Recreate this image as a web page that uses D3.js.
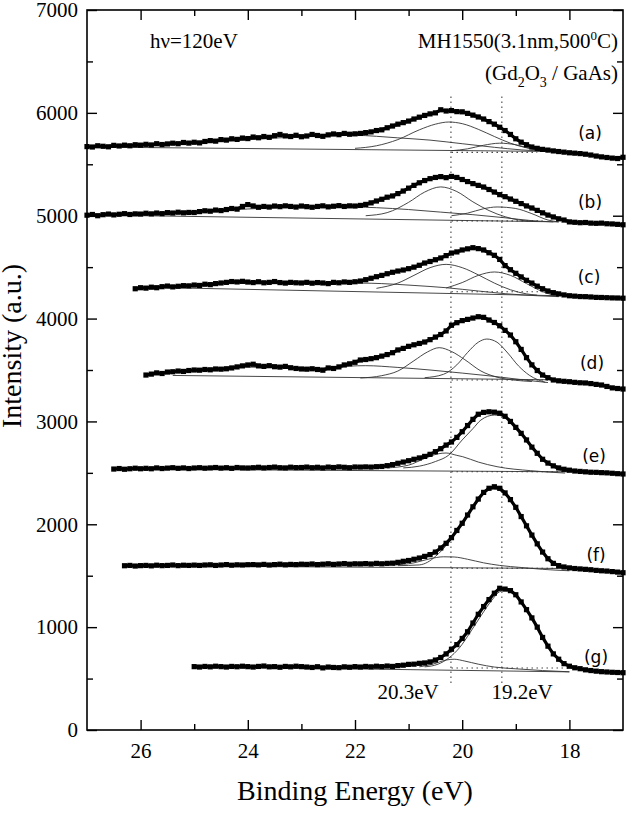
<!DOCTYPE html>
<html><head><meta charset="utf-8">
<script src="https://cdn.jsdelivr.net/npm/d3@7"></script>
<style>body{margin:0;background:#fff} svg{display:block}</style>
</head><body>
<svg id="chart" width="629" height="817"></svg>
<script>
// ---------------- data ----------------
const energyStep = 0.1;
const spectrumLabels = ["(a)","(b)","(c)","(d)","(e)","(f)","(g)"];
const spectrumStart = [27.0, 27.0, 26.1, 25.9, 26.5, 26.3, 25.0];

const specA = [5672,5668,5680,5675,5670,5684,5678,5686,5680,5690,
  5686,5694,5688,5700,5692,5698,5705,5700,5712,5706,
  5714,5708,5722,5730,5725,5740,5735,5748,5742,5755,
  5750,5765,5758,5770,5762,5778,5790,5776,5770,5782,
  5768,5775,5790,5780,5772,5786,5795,5788,5800,5792,
  5796,5800,5808,5815,5828,5835,5855,5872,5890,5905,
  5920,5940,5958,5975,5990,6000,6030,6018,6022,6012,
  6010,5995,5978,5960,5940,5915,5890,5860,5828,5790,
  5748,5715,5690,5668,5655,5645,5638,5630,5624,5618,
  5612,5608,5604,5598,5590,5580,5572,5566,5560,5556,
  5568];
const specB = [5005,5012,5000,5010,5016,5008,5014,5020,5012,5018,
  5016,5024,5018,5026,5020,5030,5026,5034,5028,5032,
  5031,5040,5048,5044,5055,5050,5060,5070,5064,5090,
  5108,5095,5082,5090,5084,5094,5088,5096,5090,5084,
  5094,5088,5082,5090,5096,5086,5092,5098,5090,5096,
  5094,5100,5110,5125,5143,5160,5180,5192,5215,5240,
  5268,5295,5320,5342,5360,5372,5380,5370,5382,5372,
  5352,5332,5312,5295,5279,5255,5230,5205,5185,5162,
  5140,5118,5095,5075,5052,5028,5006,4988,4970,4958,
  4940,4936,4932,4934,4928,4926,4928,4922,4920,4916,
  4912];
const specC = [4290,4300,4296,4305,4300,4310,4316,4308,4314,4320,
  4318,4326,4322,4334,4330,4340,4346,4352,4360,4356,
  4362,4355,4350,4358,4348,4352,4360,4350,4345,4352,
  4348,4346,4352,4344,4350,4346,4340,4352,4348,4356,
  4352,4358,4365,4378,4392,4407,4420,4436,4450,4462,
  4472,4485,4500,4518,4540,4555,4572,4589,4612,4637,
  4648,4667,4678,4689,4680,4667,4640,4615,4575,4515,
  4475,4440,4405,4372,4345,4315,4290,4268,4252,4240,
  4230,4222,4218,4214,4213,4210,4206,4205,4203,4201,
  4200,4198];
const specD = [3451,3460,3472,3466,3480,3483,3490,3486,3495,3500,
  3498,3505,3502,3510,3508,3512,3520,3530,3540,3549,
  3556,3540,3535,3542,3532,3528,3535,3522,3515,3510,
  3508,3512,3505,3498,3520,3515,3530,3549,3560,3575,
  3597,3602,3610,3620,3635,3650,3668,3695,3710,3730,
  3745,3758,3772,3795,3820,3845,3880,3935,3960,3980,
  3992,4005,4018,4012,3986,3962,3930,3885,3840,3775,
  3700,3620,3550,3495,3451,3425,3403,3395,3390,3386,
  3380,3376,3374,3368,3360,3354,3340,3326,3320,3315];
const specE = [2537,2542,2535,2540,2545,2540,
  2544,2540,2548,2542,2546,2550,2544,2548,2542,2547,
  2550,2545,2548,2552,2546,2550,2544,2552,2548,2547,
  2550,2554,2548,2552,2556,2550,2548,2555,2551,2552,
  2556,2550,2554,2548,2556,2552,2558,2554,2550,2557,
  2556,2558,2556,2560,2562,2570,2580,2593,2605,2618,
  2632,2645,2660,2680,2706,2735,2770,2800,2845,2900,
  2960,3020,3070,3088,3094,3090,3080,3050,3000,2942,
  2884,2820,2750,2690,2632,2595,2568,2548,2535,2526,
  2518,2514,2510,2506,2505,2502,2500,2496,2492,2489];
const specF = [1597,1600,1594,1598,
  1600,1596,1602,1598,1600,1604,1598,1602,1600,1603,
  1600,1604,1606,1600,1604,1608,1602,1606,1604,1607,
  1608,1605,1610,1604,1608,1612,1606,1610,1608,1612,
  1610,1614,1608,1612,1616,1610,1614,1618,1612,1616,
  1615,1618,1614,1620,1616,1620,1622,1630,1640,1648,
  1660,1672,1688,1705,1730,1770,1815,1870,1940,2010,
  2090,2170,2245,2310,2350,2365,2350,2305,2240,2165,
  2075,1985,1895,1810,1730,1665,1620,1598,1585,1576,
  1570,1566,1562,1558,1552,1548,1545,1540,1535,1529];
const specG = [616,
  612,618,614,620,616,612,618,615,620,616,
  612,618,622,614,616,610,618,614,620,616,
  612,608,615,604,612,608,606,614,610,616,
  612,618,614,620,616,622,618,626,630,638,
  640,648,652,662,680,705,740,785,830,890,
  955,1040,1125,1200,1268,1330,1378,1370,1355,1315,
  1245,1170,1090,1000,900,815,740,688,645,620,
  605,596,585,578,572,567,564,561,559,557];
const spectra = [specA, specB, specC, specD, specE, specF, specG];

// fitted components: [energy, intensity] key points
const fitsA = [
  [[27,5668],[18.4,5625]],
  [[27,5668],[25.5,5695],[24.5,5722],[23.5,5755],[22.6,5775],[22.0,5782],[21.6,5772],[21.2,5757],[20.6,5735],[20.0,5700],[19.4,5665],[18.9,5640],[18.5,5628]],
  [[22.0,5655],[21.6,5680],[21.2,5740],[20.8,5835],[20.5,5890],[20.25,5911],[20.0,5895],[19.7,5840],[19.4,5770],[19.1,5705],[18.8,5660],[18.5,5636]],
  [[20.2,5632],[19.9,5650],[19.6,5685],[19.3,5705],[19.0,5690],[18.7,5650],[18.4,5622]]
];
const fitsB = [
  [[27,5008],[18.2,4940]],
  [[27,5008],[25.5,5025],[24.5,5050],[23.5,5078],[22.6,5085],[22.0,5084],[21.6,5078],[21.0,5060],[20.4,5035],[19.8,5010],[19.2,4980],[18.7,4952],[18.3,4940]],
  [[21.8,5000],[21.4,5030],[21.0,5130],[20.7,5230],[20.4,5280],[20.1,5235],[19.8,5135],[19.5,5050],[19.2,4990],[18.9,4955],[18.6,4944]],
  [[20.2,5000],[19.9,5025],[19.6,5068],[19.35,5085],[19.0,5070],[18.7,5020],[18.4,4958],[18.2,4940]]
];
const fitsC = [
  [[25.5,4300],[18.2,4222]],
  [[26.1,4290],[25.2,4312],[24.2,4345],[23.2,4345],[22.4,4345],[21.9,4345],[21.5,4340],[20.9,4322],[20.3,4300],[19.7,4268],[19.2,4242],[18.6,4222],[18.2,4213]],
  [[21.6,4294],[21.2,4345],[20.9,4420],[20.6,4495],[20.3,4527],[20.0,4495],[19.7,4425],[19.4,4345],[19.1,4280],[18.8,4240],[18.6,4228]],
  [[20.3,4297],[20.0,4350],[19.7,4420],[19.4,4453],[19.1,4420],[18.8,4340],[18.5,4262],[18.2,4215]]
];
const fitsD = [
  [[25.4,3447],[18.4,3405]],
  [[25.9,3450],[25.0,3492],[24.2,3530],[23.4,3522],[22.6,3518],[22.1,3538],[21.8,3542],[21.2,3525],[20.6,3500],[20.0,3470],[19.4,3438],[18.8,3400],[18.4,3378]],
  [[21.9,3422],[21.5,3445],[21.2,3490],[20.9,3590],[20.65,3675],[20.43,3717],[20.2,3680],[19.95,3600],[19.65,3490],[19.35,3430],[19.0,3400],[18.7,3388]],
  [[20.7,3425],[20.35,3458],[20.1,3550],[19.9,3670],[19.7,3770],[19.54,3801],[19.35,3770],[19.15,3665],[18.95,3540],[18.75,3450],[18.45,3380]]
];
const fitsE = [
  [[26.4,2537],[18.0,2510]],
  [[21.1,2548],[20.8,2565],[20.5,2610],[20.25,2673],[20.0,2820],[19.8,2930],[19.65,3014],[19.4,3062],[19.2,3045],[19.0,2945],[18.8,2830],[18.6,2700],[18.4,2595],[18.2,2530],[18.0,2512]],
  [[21.4,2548],[21.0,2575],[20.7,2640],[20.45,2685],[20.3,2693],[20.1,2670],[19.99,2657],[19.7,2605],[19.35,2560],[18.72,2521],[18.08,2498]]
];
const fitsF = [
  [[26.2,1597],[18.0,1570]],
  [[21.2,1598],[20.8,1605],[20.65,1630],[20.5,1687],[20.25,1825],[20.0,2018],[19.8,2170],[19.6,2300],[19.42,2343],[19.2,2290],[19.0,2150],[18.8,1985],[18.6,1810],[18.4,1680],[18.2,1610],[18.0,1578]],
  [[21.3,1602],[20.9,1625],[20.6,1665],[20.35,1684],[20.15,1682],[19.9,1660],[19.6,1625],[19.3,1600],[18.9,1580],[18.5,1562],[18.0,1548]]
];
const fitsG = [
  [[25.0,616],[18.0,565]],
  [[20.7,614],[20.45,640],[20.25,700],[20.05,800],[19.85,950],[19.65,1110],[19.45,1260],[19.3,1345],[19.15,1362],[19.0,1320],[18.8,1175],[18.6,1000],[18.4,825],[18.2,695],[18.0,625],[17.8,596]],
  [[20.8,614],[20.55,640],[20.3,680],[20.15,688],[19.95,670],[19.7,640],[19.4,612],[19.0,595],[18.5,578],[18.0,566]]
];
const fits = [fitsA, fitsB, fitsC, fitsD, fitsE, fitsF, fitsG];

// dotted baselines: [from energy, to energy, intensity]
const dottedBaselines = [
  [20.2, 18.6, 5616],
  [20.2, 18.5, 4950],
  [20.2, 18.2, 4261],
  [20.2, 18.2, 3403],
  [20.2, 18.0, 2511],
  [20.2, 18.0, 1572],
  [20.2, 17.95, 603]
];
const peakEnergies = [20.21, 19.26];
const peakLabels = ["20.3eV", "19.2eV"];
const peakLineRange = [440, 6160];

const xTicks = [26, 24, 22, 20, 18];
const xMinorTicks = [25, 23, 21, 19];
const yTicks = [0, 1000, 2000, 3000, 4000, 5000, 6000, 7000];
const yMinorTicks = [500, 1500, 2500, 3500, 4500, 5500, 6500];

// ---------------- drawing ----------------
const W = 629, H = 817;
const svg = d3.select("#chart");
svg.append("rect").attr("width", W).attr("height", H).attr("fill", "#fff");

const plot = {left: 87, right: 623, top: 10, bottom: 730};
const x = d3.scaleLinear().domain([27, 17]).range([plot.left, plot.right]);
const y = d3.scaleLinear().domain([0, 7000]).range([plot.bottom, plot.top]);

const serif = "'Liberation Serif', 'Times New Roman', serif";
const sans = "'DejaVu Sans', Verdana, sans-serif";

function styleAxis(g, size) {
  g.select(".domain").remove();
  g.selectAll(".tick line").attr("stroke", "#000").attr("stroke-width", 1.4);
  g.selectAll(".tick text").attr("font-family", serif).attr("font-size", size).attr("fill", "#000");
}
const fmt = d3.format("d");
svg.append("g").attr("transform", `translate(0,${plot.bottom})`)
  .call(d3.axisBottom(x).tickValues(xTicks).tickSizeInner(-10).tickSizeOuter(0).tickPadding(13).tickFormat(fmt))
  .call(g => styleAxis(g, 21));
svg.append("g").attr("transform", `translate(0,${plot.bottom})`)
  .call(d3.axisBottom(x).tickValues(xMinorTicks).tickSize(-6).tickFormat(""))
  .call(g => styleAxis(g, 21));
svg.append("g").attr("transform", `translate(0,${plot.top})`)
  .call(d3.axisTop(x).tickValues(xTicks).tickSize(-10).tickFormat(""))
  .call(g => styleAxis(g, 21));
svg.append("g").attr("transform", `translate(0,${plot.top})`)
  .call(d3.axisTop(x).tickValues(xMinorTicks).tickSize(-6).tickFormat(""))
  .call(g => styleAxis(g, 21));
svg.append("g").attr("transform", `translate(${plot.left},0)`)
  .call(d3.axisLeft(y).tickValues(yTicks).tickSizeInner(-10).tickSizeOuter(0).tickPadding(9).tickFormat(fmt))
  .call(g => styleAxis(g, 21));
svg.append("g").attr("transform", `translate(${plot.left},0)`)
  .call(d3.axisLeft(y).tickValues(yMinorTicks).tickSize(-6).tickFormat(""))
  .call(g => styleAxis(g, 21));
svg.append("g").attr("transform", `translate(${plot.right},0)`)
  .call(d3.axisRight(y).tickValues(yTicks).tickSize(-10).tickFormat(""))
  .call(g => styleAxis(g, 21));
svg.append("g").attr("transform", `translate(${plot.right},0)`)
  .call(d3.axisRight(y).tickValues(yMinorTicks).tickSize(-6).tickFormat(""))
  .call(g => styleAxis(g, 21));

svg.append("rect")
  .attr("x", plot.left).attr("y", plot.top)
  .attr("width", plot.right - plot.left).attr("height", plot.bottom - plot.top)
  .attr("fill", "none").attr("stroke", "#000").attr("stroke-width", 1.6);

// dotted vertical peak lines
svg.append("g").selectAll("line").data(peakEnergies).join("line")
  .attr("x1", d => x(d)).attr("x2", d => x(d))
  .attr("y1", y(peakLineRange[1])).attr("y2", y(peakLineRange[0]))
  .attr("stroke", "#444").attr("stroke-width", 1.1).attr("stroke-dasharray", "1.5,3.5");

// dotted baselines
svg.append("g").selectAll("line").data(dottedBaselines).join("line")
  .attr("x1", d => x(d[0])).attr("x2", d => x(d[1]))
  .attr("y1", d => y(d[2])).attr("y2", d => y(d[2]))
  .attr("stroke", "#444").attr("stroke-width", 1.1).attr("stroke-dasharray", "1.5,3.5");

// fitted components
const fitLine = d3.line().x(d => x(d[0])).y(d => y(d[1])).curve(d3.curveMonotoneX);
const fitG = svg.append("g");
fits.forEach(set => {
  set.forEach(comp => {
    fitG.append("path").attr("d", fitLine(comp))
      .attr("fill", "none").attr("stroke", "#333").attr("stroke-width", 0.9);
  });
});

// measured spectra
const dataLine = d3.line().x(d => x(d[0])).y(d => y(d[1]));
const dataG = svg.append("g");
spectra.forEach((vals, k) => {
  const pts = vals.map((v, i) => [+(spectrumStart[k] - i * energyStep).toFixed(2), v]);
  dataG.append("path").attr("d", dataLine(pts))
    .attr("fill", "none").attr("stroke", "#000").attr("stroke-width", 3.2).attr("stroke-linejoin", "round");
  dataG.append("g").selectAll("rect").data(pts).join("rect")
    .attr("x", d => x(d[0]) - 2.6).attr("y", d => y(d[1]) - 2.6)
    .attr("width", 5.2).attr("height", 5.2).attr("fill", "#000");
});

// spectrum labels
const labelPos = [[590,139],[590,208],[589,283],[592,369],[594,462],[596,561],[596,663]];
svg.append("g").selectAll("text").data(spectrumLabels).join("text")
  .attr("x", (d, i) => labelPos[i][0]).attr("y", (d, i) => labelPos[i][1])
  .attr("text-anchor", "middle").attr("font-family", sans).attr("font-size", 17)
  .attr("fill", "#000").text(d => d);

// peak labels
const peakLabelPos = [[408,699],[522,699]];
svg.append("g").selectAll("text").data(peakLabels).join("text")
  .attr("x", (d, i) => peakLabelPos[i][0]).attr("y", (d, i) => peakLabelPos[i][1])
  .attr("text-anchor", "middle").attr("font-family", serif).attr("font-size", 21)
  .attr("fill", "#000").text(d => d);

// annotations
svg.append("text").attr("x", 150).attr("y", 48)
  .attr("font-family", serif).attr("font-size", 21).attr("fill", "#000")
  .text("h\u03BD=120eV");

const t1 = svg.append("text").attr("x", 618).attr("y", 48).attr("text-anchor", "end")
  .attr("font-family", serif).attr("font-size", 21).attr("fill", "#000");
t1.append("tspan").text("MH1550(3.1nm,500");
t1.append("tspan").attr("dy", -8).attr("font-size", 13).text("0");
t1.append("tspan").attr("dy", 8).text("C)");

const t2 = svg.append("text").attr("x", 618).attr("y", 80).attr("text-anchor", "end")
  .attr("font-family", serif).attr("font-size", 21).attr("fill", "#000");
t2.append("tspan").text("(Gd");
t2.append("tspan").attr("dy", 7).attr("font-size", 14).text("2");
t2.append("tspan").attr("dy", -7).text("O");
t2.append("tspan").attr("dy", 7).attr("font-size", 14).text("3");
t2.append("tspan").attr("dy", -7).text(" / GaAs)");

// axis titles
svg.append("text").attr("x", 355).attr("y", 800).attr("text-anchor", "middle")
  .attr("font-family", serif).attr("font-size", 28).attr("fill", "#000")
  .text("Binding Energy (eV)");
svg.append("text").attr("transform", "translate(21,346) rotate(-90)").attr("text-anchor", "middle")
  .attr("font-family", serif).attr("font-size", 28).attr("fill", "#000")
  .text("Intensity (a.u.)");
</script>
</body></html>
